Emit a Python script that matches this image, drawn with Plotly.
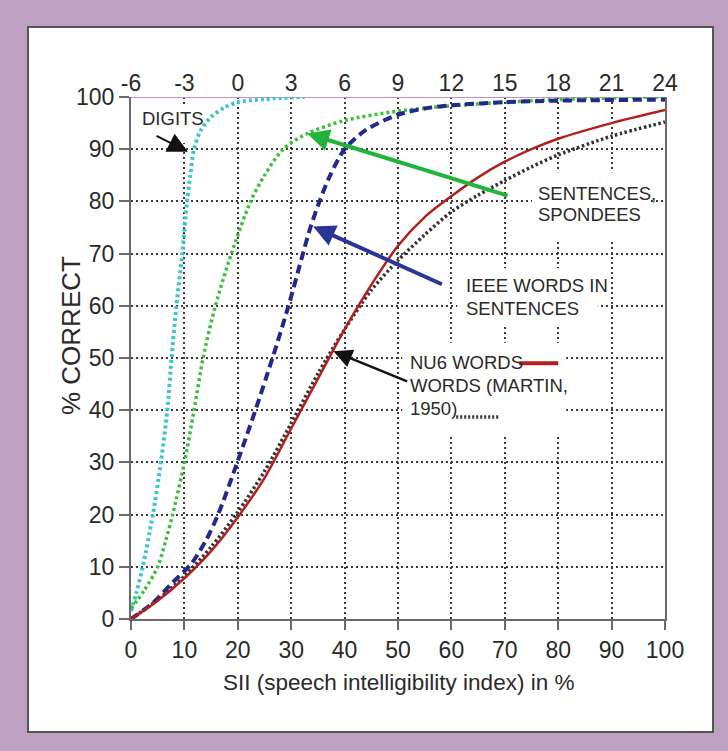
import plotly.graph_objects as go

# ---------------- data ----------------
sii_ticks = list(range(0, 101, 10))
snr_ticks = list(range(-6, 25, 3))
snr_labels = [str(v) for v in snr_ticks]          # plain hyphen as in the source
pct_ticks = list(range(0, 101, 10))

digits_x = [0, 1, 2.2, 4.1, 5.6, 6.8, 7.6, 8.5, 9.6, 10.5, 11.1, 11.8, 13, 15, 17.5, 20, 25, 32.5]
digits_y = [1.5, 5, 10, 20, 30, 40, 50, 60, 70, 80, 85, 90, 93.5, 96.2, 98, 99, 99.6, 100]

spondee_x = [0, 2.5, 5, 6.5, 7.8, 10, 11.8, 13.5, 15.8, 18.8, 22.4, 25, 28.5, 33, 40, 50, 60, 70, 80, 90, 100]
spondee_y = [2, 5.5, 10, 15, 20, 30, 40, 50, 60, 70, 80, 85, 90, 93, 95.5, 97.3, 98.3, 99, 99.5, 99.8, 100]

ieee_x = [0, 4, 7.8, 11.3, 14, 16.3, 19.9, 23.3, 26.5, 29.5, 32.2, 33.6, 35.3, 37.3, 40, 44, 50, 55, 60, 70, 80, 100]
ieee_y = [0, 3, 7, 10.6, 15, 20, 30, 40, 50, 60, 70, 75, 80, 85, 90, 93.7, 96.6, 97.8, 98.4, 99, 99.3, 99.5]

nu6_x = [0, 5, 10, 15, 20, 25, 30, 35, 40, 45, 50, 55, 60, 65, 70, 75, 80, 90, 100]
nu6_y = [0, 3.5, 7.8, 13, 19.5, 27, 36.5, 46, 55.5, 64, 71.5, 77, 81, 84.6, 87.6, 90, 92, 95, 97.5]

martin_x = [0, 5, 10, 15, 20, 25, 30, 35, 40, 45, 50, 55, 60, 65, 70, 75, 80, 90, 100]
martin_y = [0, 3.7, 8.2, 13.8, 20.5, 28.3, 37.5, 47, 55.5, 63, 68.7, 73.6, 78, 81.2, 84, 86.6, 88.9, 92.5, 95.2]

# ---------------- styling ----------------
PURPLE = "#bea0c0"
FONT = "Liberation Sans, Arial, Helvetica, sans-serif"
TXT = "#2a2a2a"
CYAN = "#3ec6c6"
GREEN = "#3cbf3c"
BLUE = "#23298a"
RED = "#b2201e"
BLACK = "#333333"

fig = go.Figure()

def curve(x, y, color, width, dash, name):
    fig.add_trace(go.Scatter(x=x, y=y, mode="lines", name=name,
                             line=dict(color=color, width=width, dash=dash, shape="spline", smoothing=0.8),
                             showlegend=False, hoverinfo="skip"))

curve(digits_x, digits_y, CYAN, 4, "3px,3px", "Digits")
curve(spondee_x, spondee_y, GREEN, 3.5, "3px,3px", "Sentences, spondees")
curve(ieee_x, ieee_y, BLUE, 4, "9px,5px", "IEEE words in sentences")
curve(martin_x, martin_y, BLACK, 3.5, "2.5px,2.5px", "Words (Martin, 1950)")
curve(nu6_x, nu6_y, RED, 2.5, "solid", "NU6 words")

# helper trace so the top (SNR, dB) axis is drawn
fig.add_trace(go.Scatter(x=[snr_ticks[0], snr_ticks[-1]], y=[None, None], xaxis="x2", yaxis="y",
                         mode="lines", showlegend=False, hoverinfo="skip"))

shapes = [
    # white panel
    dict(type="rect", xref="paper", yref="paper", x0=-0.1929, x1=1.0899, y0=-0.2165, y1=1.1341,
         fillcolor="white", line=dict(color="#555555", width=2), layer="below"),
    # top border (pinkish)
    dict(type="line", xref="x", yref="y", x0=0, x1=100, y0=100, y1=100,
         line=dict(color="#c98fc9", width=2), layer="between"),
    # white boxes behind labels (hide grid)
    dict(type="rect", xref="x", yref="y", x0=1.1, x1=13.3, y0=91.2, y1=98.2,
         fillcolor="white", line=dict(width=0), layer="between"),
    dict(type="rect", xref="x", yref="y", x0=75.1, x1=97.0, y0=72.7, y1=85.6,
         fillcolor="white", line=dict(width=0), layer="between"),
    dict(type="rect", xref="x", yref="y", x0=61.1, x1=87.4, y0=56.1, y1=67.2,
         fillcolor="white", line=dict(width=0), layer="between"),
    dict(type="rect", xref="x", yref="y", x0=50.8, x1=81.5, y0=35.1, y1=52.9,
         fillcolor="white", line=dict(width=0), layer="between"),
    # legend line samples
    dict(type="line", xref="x", yref="y", x0=72.7, x1=80.0, y0=49.0, y1=49.0,
         line=dict(color=RED, width=4), layer="above"),
    dict(type="line", xref="x", yref="y", x0=60.9, x1=69.0, y0=38.7, y1=38.7,
         line=dict(color=BLACK, width=3.5, dash="2px,2px"), layer="above"),
]

ann_font = dict(family=FONT, size=18.5, color=TXT)
annotations = []

def label(text, x, y):
    annotations.append(dict(x=x, y=y, xref="x", yref="y", text=text, showarrow=False,
                            xanchor="left", yanchor="middle", font=ann_font))

label("DIGITS", 1.7, 95.8)
label("SENTENCES,", 75.9, 81.6)
label("SPONDEES", 75.9, 77.4)
label("IEEE WORDS IN", 62.4, 63.8)
label("SENTENCES", 62.4, 59.4)
label("NU6 WORDS", 51.8, 49.1)
label("WORDS (MARTIN,", 51.8, 44.8)
label("1950)", 51.8, 40.3)

def arrow(x, y, ax, ay, color, width, size):
    annotations.append(dict(x=x, y=y, ax=ax, ay=ay, xref="x", yref="y", axref="x", ayref="y",
                            text="", showarrow=True, arrowhead=2, arrowsize=size,
                            arrowwidth=width, arrowcolor=color, standoff=0, startstandoff=0))

arrow(10.65, 89.5, 4.5, 92.7, "#111111", 2, 2.0)
arrow(33.0, 93.0, 70.8, 81.0, "#22b43a", 4, 1.1)
arrow(34.1, 75.2, 58.5, 64.0, "#2a3598", 4, 1.1)
arrow(37.9, 51.3, 52.0, 45.4, "#111111", 2.5, 1.5)

# axis titles
annotations.append(dict(x=0.5, y=-0.1226, xref="paper", yref="paper", showarrow=False,
                        text="SII (speech intelligibility index) in %",
                        font=dict(family=FONT, size=22.5, color=TXT), xanchor="center", yanchor="middle"))
annotations.append(dict(x=-0.1124, y=0.544, xref="paper", yref="paper", showarrow=False,
                        text="% CORRECT", textangle=-90,
                        font=dict(family=FONT, size=26, color=TXT), xanchor="center", yanchor="middle"))

tickfont = dict(family=FONT, size=23, color=TXT)
grid = dict(showgrid=True, gridcolor="#3a3a3a", gridwidth=1.5, griddash="2px,3px", zeroline=False)

fig.update_layout(
    width=728, height=751,
    margin=dict(l=131, r=63, t=97, b=132),
    paper_bgcolor=PURPLE, plot_bgcolor="white",
    font=dict(family=FONT, color=TXT),
    xaxis=dict(range=[0, 100], tickvals=sii_ticks, ticks="outside", ticklen=9, tickwidth=2,
               tickcolor="#6b6b6b", showline=True, linecolor="#6b6b6b", linewidth=2,
               tickfont=tickfont, **grid),
    xaxis2=dict(range=[-6, 24], tickvals=snr_ticks, ticktext=snr_labels, overlaying="x", side="top",
                anchor="y", showgrid=False, zeroline=False, showline=False, ticks="", tickfont=tickfont),
    yaxis=dict(range=[0, 100], tickvals=pct_ticks, ticks="outside", ticklen=10, tickwidth=2,
               tickcolor="#6b6b6b", showline=True, linecolor="#6b6b6b", linewidth=2, mirror=True,
               tickfont=tickfont, **grid),
    shapes=shapes,
    annotations=annotations,
)

fig.write_html("out.html", config={"displayModeBar": False},
               post_script="document.body.style.margin='0';document.body.style.padding='0';"
                           "document.body.style.overflow='hidden';")
